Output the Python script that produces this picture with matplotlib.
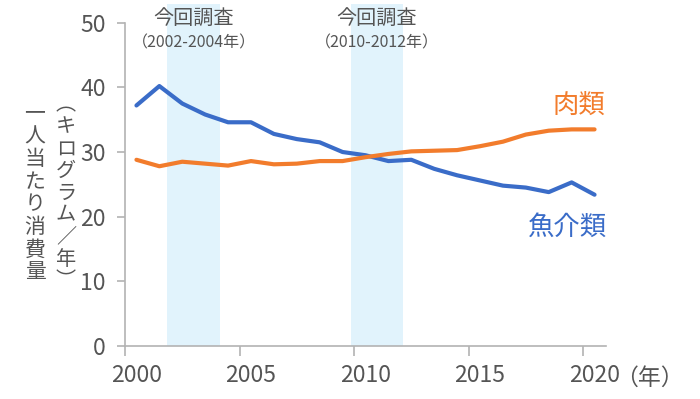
import numpy as np
import matplotlib.pyplot as plt

# =========================
# Data
# =========================
years = list(range(2000, 2021))
fish = [37.2, 40.2, 37.5, 35.8, 34.6, 34.6, 32.8, 32.0, 31.5, 30.0, 29.5,
        28.6, 28.8, 27.4, 26.4, 25.6, 24.8, 24.5, 23.8, 25.3, 23.4]
meat = [28.8, 27.8, 28.5, 28.2, 27.9, 28.6, 28.1, 28.2, 28.6, 28.6, 29.2,
        29.7, 30.1, 30.2, 30.3, 30.9, 31.6, 32.7, 33.3, 33.5, 33.5]
survey_periods = [(2002, 2004), (2010, 2012)]
xtick_years = [2000, 2005, 2010, 2015, 2020]
yticks = [0, 10, 20, 30, 40, 50]

BLUE = "#3a6cc8"
ORANGE = "#f27c2c"
SHADE = "#e1f3fc"
GRAY_TEXT = "#555555"
GRAY_AXIS = "#b3b3b3"

JP = ["Noto Sans CJK JP", "DejaVu Sans"]

fig = plt.figure(figsize=(7.0, 3.99), dpi=100)
ax = fig.add_axes([125 / 700, 1 - 346 / 399, (606 - 125) / 700, (346 - 22.7) / 399])

# points sit in the middle of each year interval
x = np.array(years) + 0.5

# survey period bands (run a little above the plot area)
for start, end in survey_periods:
    ax.axvspan(start - 0.15, end + 0.15, ymin=0, ymax=1.057,
               color=SHADE, lw=0, zorder=0, clip_on=False)
    mid = (start + end) / 2
    ax.text(mid, 1.013, "今回調査", transform=ax.get_xaxis_transform(),
            ha="center", va="center", fontsize=14.5, family=JP, color=GRAY_TEXT)
    ax.text(mid, 0.938, f"（{start}-{end}年）", transform=ax.get_xaxis_transform(),
            ha="center", va="center", fontsize=11.5, family=JP, color=GRAY_TEXT)

ax.plot(x, fish, color=BLUE, lw=3, solid_joinstyle="round", solid_capstyle="round", zorder=3)
ax.plot(x, meat, color=ORANGE, lw=3, solid_joinstyle="round", solid_capstyle="round", zorder=3)

# series labels
ax.text(2019.8, 37.2, "肉類", ha="center", va="center", fontsize=19,
        family=JP, color=ORANGE)
ax.text(2019.3, 18.3, "魚介類", ha="center", va="center", fontsize=19,
        family=JP, color=BLUE)

ax.set_xlim(2000, 2021)
ax.set_ylim(0, 50)

for side in ["top", "right"]:
    ax.spines[side].set_visible(False)
for side in ["left", "bottom"]:
    ax.spines[side].set_color(GRAY_AXIS)
    ax.spines[side].set_linewidth(1.2)

# tick marks on the year boundaries, labels centred on the year
ax.set_xticks(xtick_years)
ax.set_xticklabels([])
ax.set_xticks([y + 0.5 for y in xtick_years], minor=True)
ax.set_xticklabels([str(y) for y in xtick_years], minor=True)
ax.tick_params(axis="x", which="major", length=7, width=1.2, color=GRAY_AXIS)
ax.tick_params(axis="x", which="minor", length=0, pad=13, labelsize=16.5,
               labelcolor=GRAY_TEXT)

ax.set_yticks(yticks)
ax.set_yticklabels([str(v) for v in yticks])
ax.tick_params(axis="y", length=6, width=1.2, color=GRAY_AXIS, pad=8,
               labelsize=16.5, labelcolor=GRAY_TEXT)

for lbl in ax.get_xticklabels(minor=True) + ax.get_yticklabels():
    lbl.set_family(JP)

ax.text(2021.4, -0.065, "（年）", transform=ax.get_xaxis_transform(),
        ha="left", va="top", fontsize=16.5, family=JP, color=GRAY_TEXT, clip_on=False)

# vertical y-axis label, two columns
fig.text(35 / 700, 1 - 193 / 399, "\n".join("一人当たり消費量"), ha="center", va="center",
         fontsize=15, family=JP, color=GRAY_TEXT, linespacing=1.04)
fig.text(66 / 700, 1 - 193 / 399, "\n".join("︵キログラム／年︶"), ha="center", va="center",
         fontsize=14.5, family=JP, color=GRAY_TEXT, linespacing=1.07)

fig.savefig("out.png", dpi=100)
